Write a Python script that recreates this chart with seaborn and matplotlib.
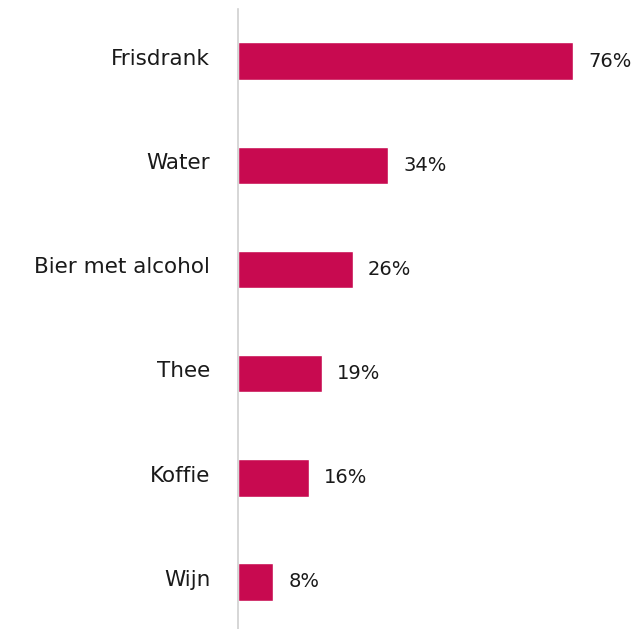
import matplotlib
matplotlib.use("Agg")
import matplotlib.pyplot as plt
import matplotlib.transforms as mtransforms
import seaborn as sns
import pandas as pd

# data
categories = ["Frisdrank", "Water", "Bier met alcohol", "Thee", "Koffie", "Wijn"]
values = [76, 34, 26, 19, 16, 8]

sns.set_style("white")
plt.rcParams['font.family'] = ['DejaVu Sans']

df = pd.DataFrame({'cat': categories, 'val': values})

fig = plt.figure(figsize=(6.44, 6.29), dpi=100)
ax = fig.add_axes([238 / 644, -5 / 629, 1 - 238 / 644, 1 - 4 / 629])

sns.barplot(data=df, x='val', y='cat', color='#C80A50', width=0.36,
            saturation=1, ax=ax)

ax.set_xlim(0, 92)
ax.set_ylim(5.5, -0.5)
ax.set_xlabel('')
ax.set_ylabel('')
ax.set_xticks([])
for s in ['top', 'right', 'bottom']:
    ax.spines[s].set_visible(False)
ax.spines['left'].set_color('#d0d0d0')
ax.spines['left'].set_linewidth(1.2)
ax.tick_params(axis='y', length=0, pad=20, labelsize=15.5, labelcolor='#1a1a1a')

# labels sit a little above bar centre
shift = mtransforms.ScaledTranslation(0, 3 / 72, fig.dpi_scale_trans)
for lab in ax.get_yticklabels():
    lab.set_transform(lab.get_transform() + shift)

for i, v in enumerate(values):
    ax.annotate(f'{v}%', xy=(v, i), xytext=(11, 0), textcoords='offset points',
                va='center', ha='left', fontsize=14, color='#1a1a1a')

fig.savefig('out.png', dpi=100)
